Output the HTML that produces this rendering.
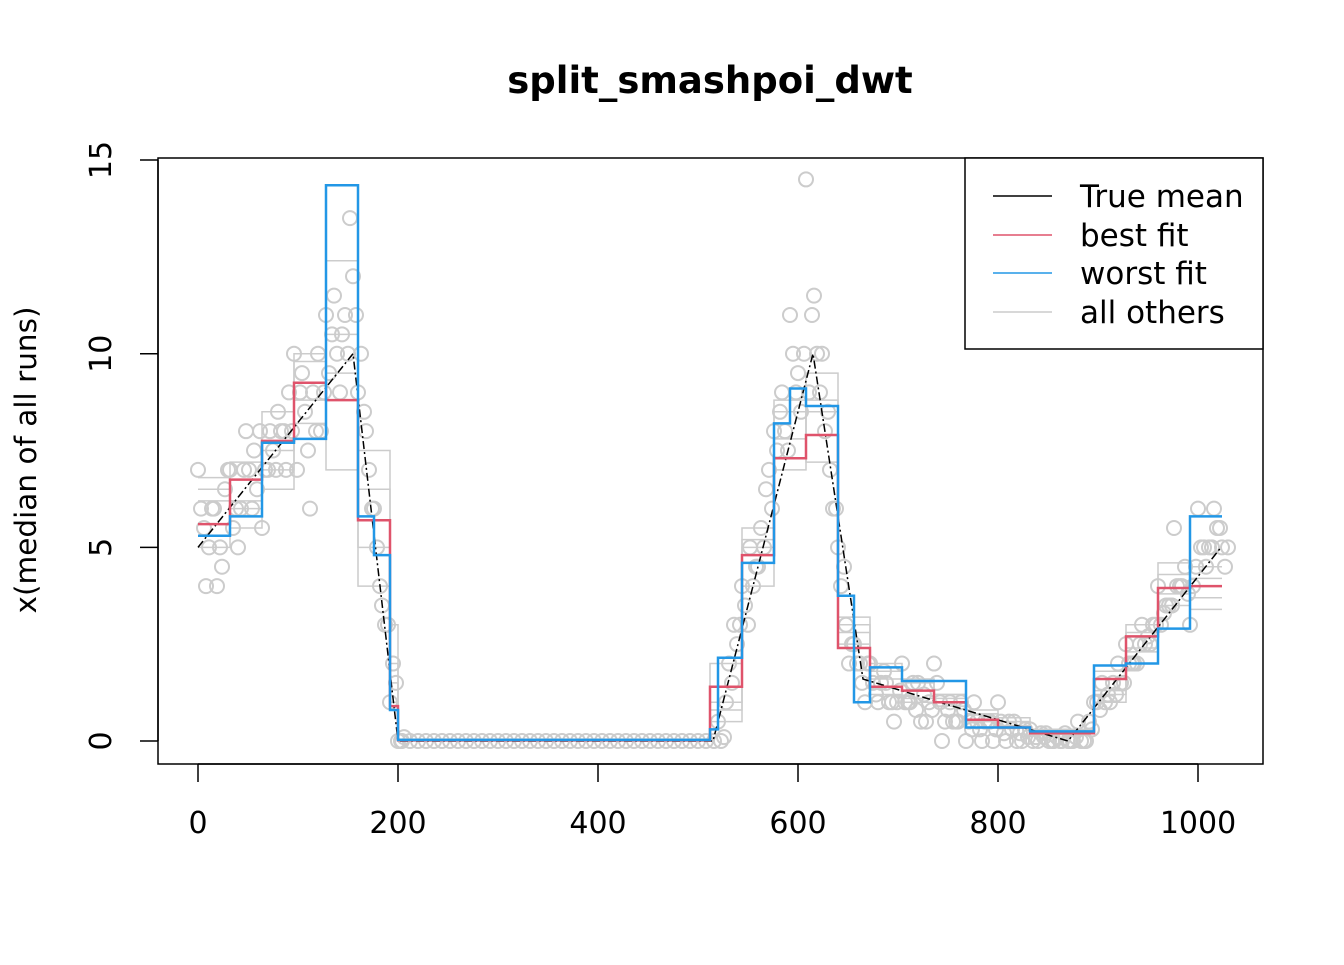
<!DOCTYPE html>
<html><head><meta charset="utf-8"><style>
body{margin:0;background:#fff}
svg text{font-family:"DejaVu Sans","Liberation Sans",sans-serif}
</style></head><body>
<svg id="chart" width="1344" height="960" xmlns="http://www.w3.org/2000/svg">
<text x="710" y="93" text-anchor="middle" font-size="37" font-weight="bold">split_smashpoi_dwt</text>
<text transform="translate(36,460) rotate(-90)" text-anchor="middle" font-size="29.5">x(median of all runs)</text>
<g id="plot"></g>
<rect x="158" y="158" width="1105" height="606" fill="none" stroke="#000" stroke-width="1.5"/>
<g id="axes"></g>
<g>
<rect x="965" y="158" width="298" height="191" fill="#fff" stroke="#000" stroke-width="1.5"/>
<line x1="993" y1="196" x2="1052" y2="196" stroke="#000" stroke-width="1.5"/>
<text x="1080" y="207" font-size="31">True mean</text>
<line x1="993" y1="235" x2="1052" y2="235" stroke="#df536b" stroke-width="1.5"/>
<text x="1080" y="246" font-size="31">best fit</text>
<line x1="993" y1="273" x2="1052" y2="273" stroke="#2297e6" stroke-width="1.5"/>
<text x="1080" y="284" font-size="31">worst fit</text>
<line x1="993" y1="312" x2="1052" y2="312" stroke="#cccccc" stroke-width="1.5"/>
<text x="1080" y="323" font-size="31">all others</text>
</g>
</svg>
<script>
const xTicks=[0,200,400,600,800,1000];
const yTicks=[0,5,10,15];
const trueX=[0,155,200,515,615,665,870,1023];
const trueY=[5,10,0,0,10,1.6,0,5];
const obsX=[0,8,16,24,32,40,48,56,64,72,80,88,96,104,112,120,128,136,144,152,160,168,176,184,192,200,520,528,536,544,552,560,568,576,584,592,600,608,616,624,632,640,648,656,664,672,680,688,696,704,712,720,728,736,744,752,760,768,776,784,792,800,808,816,824,832,840,848,856,864,872,880,888,896,904,912,920,928,936,944,952,960,968,976,984,992,1000,1008,1016,1024];
const obsY=[7,4,6,4.5,7,5,8,7.5,5.5,8,8.5,7,10,9.5,6,10,11,11.5,10.5,13.5,9,8,6,3.5,1,0,0.5,1,3,4,5,4.5,6.5,8,9,11,9.5,14.5,11.5,10,7,5,3,2.5,1.5,2,1,1.5,0.5,2,1,1.5,0.5,2,0,1,0.5,0,1,0,0.5,1,0,0.5,0,0.3,0,0.2,0,0,0,0.5,0,1,1.5,1,2,2.5,2,3,2.5,4,3.5,5.5,4,3,6,4.5,6,5];
const obsY2=[6,5,4,6.5,5.5,6,7,6.5,7,7.5,8,9,7,8.5,9,8,9.5,10,11,12,10,7,5,3,2,0,0,2,2.5,3.5,4,5.5,7,7.5,8,10,8.5,9,10,8,6,4,2,2,1,1.5,1.5,1,1,1,1.5,0.5,1,1.5,0.5,0.5,1,0.5,0.5,0.5,0,0.5,0.5,0,0.3,0,0.2,0,0.1,0.2,0,0,0.5,1,1,1.5,1.5,2,2,2.5,3,3,3.5,4,4.5,4,5,5,5.5,4.5];
const obsY3=[5.5,6,5,7,6,7,6,8,7,7,8,8,9,7.5,8,9,10.5,9,10,11,8.5,6,4,3,1.5,0.1,0.1,1.5,3,3,4.5,5,6,8.5,7.5,9,10,11,9,8.5,6,4.5,2.5,2,2,1.2,1.8,1,1.3,1,0.8,1.2,0.8,1,0.8,0.5,0.8,0.3,0.3,0.5,0.3,0.2,0.3,0.2,0.1,0.1,0.1,0,0,0,0.1,0,0.3,0.8,1.2,1.2,1.5,2,2.5,2.7,3,3.3,3.5,4,3.8,4.5,5,5,5.5,5];
const zeroX=[204,212,220,228,236,244,252,260,268,276,284,292,300,308,316,324,332,340,348,356,364,372,380,388,396,404,412,420,428,436,444,452,460,468,476,484,492,500,508,516];
const zeroY=[0,0,0,0,0,0,0,0,0,0,0,0,0,0,0,0,0,0,0,0,0,0,0,0,0,0,0,0,0,0,0,0,0,0,0,0,0,0,0,0];
const bestBreaks=[0,32,64,96,128,160,192,200,512,544,576,608,640,672,704,736,768,800,832,896,928,960,992,1024];
const bestVals=[5.6,6.75,7.75,9.25,8.8,5.7,0.9,0.02,1.4,4.8,7.3,7.9,2.4,1.4,1.3,1.0,0.55,0.35,0.2,1.6,2.7,3.95,4.0];
const worstBreaks=[0,32,64,96,128,160,176,192,200,512,520,544,576,592,608,640,656,672,704,768,832,896,928,960,992,1024];
const worstVals=[5.3,5.8,7.7,7.8,14.35,5.8,4.8,0.8,0.03,0.3,2.15,4.6,8.2,9.1,8.65,3.75,1.0,1.9,1.55,0.35,0.25,1.95,2.0,2.9,5.8];
const other1Vals=[6.5,7.2,8.5,9.8,10.5,7.5,3,0,0.5,5.5,8.5,8.8,3,1.8,1.6,1.2,0.8,0.6,0.3,1,3,4.3,4.5];
const other2Vals=[5,6,7.5,8.2,12.4,4,1.5,0.05,2,4,7.8,9.5,2.8,1.2,1.1,0.9,0.7,0.4,0.3,1.3,2.3,3.5,3.7];
const other3Vals=[6.2,5.5,7.0,10.0,7.0,5.0,1,0,1,5.2,8.8,7.2,2.5,1.6,1.0,1.2,0.5,0.5,0.2,1.8,2.4,4.6,3.4];
const other4Vals=[6.8,6.2,6.5,8.8,9.5,6.5,2,0,0.8,5.0,7.0,8.5,3.2,2.0,1.5,1.1,0.7,0.5,0.3,1.2,2.8,3.8,4.2];

const X=v=>198+v*1.0;
const Y=v=>741-v*38.73;
const NS='http://www.w3.org/2000/svg';
const plot=document.getElementById('plot');
const axes=document.getElementById('axes');
function mk(tag,attrs,parent){const e=document.createElementNS(NS,tag);for(const k in attrs)e.setAttribute(k,attrs[k]);parent.appendChild(e);return e;}
function stepPath(br,vals){let d='M'+X(br[0])+','+Y(vals[0]);for(let i=0;i<vals.length;i++){d+=' L'+X(br[i])+','+Y(vals[i])+' L'+X(br[i+1])+','+Y(vals[i]);}return d;}
[other1Vals,other2Vals,other3Vals,other4Vals].forEach((v,i)=>{
 const p=mk('path',{d:stepPath(bestBreaks,v),fill:'none',stroke:'#cccccc','stroke-width':1.5},plot);
 
 
});
[obsY,obsY2,obsY3].forEach((arr,k)=>{
 obsX.forEach((x,i)=>{
  const c=mk('circle',{cx:X(x)+k*3,cy:Y(arr[i]),r:7,fill:'none',stroke:'#cccccc','stroke-width':2},plot);
  
  
 });
});
zeroX.forEach((x,i)=>{
 const c=mk('circle',{cx:X(x),cy:Y(zeroY[i]),r:7,fill:'none',stroke:'#cccccc','stroke-width':2},plot);
 
 
});
let td='';trueX.forEach((x,i)=>{td+=(i?' L':'M')+X(x)+','+Y(trueY[i]);});
const tp=mk('path',{d:td,fill:'none',stroke:'#000','stroke-width':1.5,'stroke-dasharray':'8,3,2,3'},plot);


const bp=mk('path',{d:stepPath(bestBreaks,bestVals),fill:'none',stroke:'#df536b','stroke-width':2.5},plot);


const wp=mk('path',{d:stepPath(worstBreaks,worstVals),fill:'none',stroke:'#2297e6','stroke-width':2.5},plot);


mk('line',{x1:X(0),x2:X(1000),y1:764,y2:764,stroke:'#000','stroke-width':1.5},axes);
xTicks.forEach(t=>{
 mk('line',{x1:X(t),x2:X(t),y1:764,y2:782,stroke:'#000','stroke-width':1.5},axes);
 const tx=mk('text',{x:X(t),y:833,'text-anchor':'middle','font-size':30},axes);tx.textContent=t;
 
 
});
mk('line',{x1:158,x2:158,y1:Y(0),y2:Y(15),stroke:'#000','stroke-width':1.5},axes);
yTicks.forEach(t=>{
 mk('line',{x1:140,x2:158,y1:Y(t),y2:Y(t),stroke:'#000','stroke-width':1.5},axes);
 const tx=mk('text',{transform:'translate(111,'+Y(t)+') rotate(-90)','text-anchor':'middle','font-size':30},axes);tx.textContent=t;
 
 
});
</script>
</body></html>
